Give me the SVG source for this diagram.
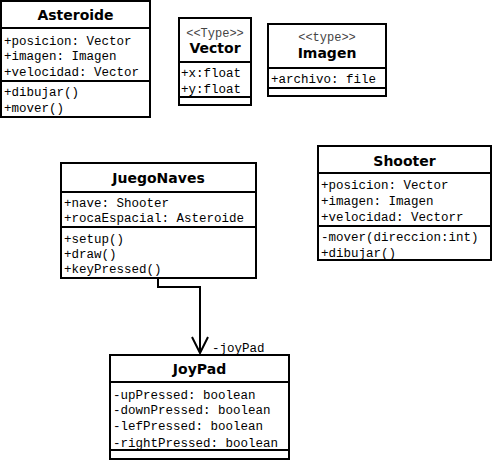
<svg xmlns="http://www.w3.org/2000/svg" width="493" height="462" viewBox="0 0 493 462">
<style>
.box{fill:#fff;stroke:#000;stroke-width:2}
.div{stroke:#000;stroke-width:2}
.name{font-family:"DejaVu Sans",Verdana,sans-serif;font-weight:bold;font-size:14px;text-anchor:middle;fill:#000}
.mono{font-family:"Courier New","Liberation Mono",Cousine,Courier,monospace;font-size:12.5px;fill:#000}
.st{font-family:"Courier New","Liberation Mono",Cousine,Courier,monospace;font-size:12px;fill:#444;text-anchor:middle}
.conn{fill:none;stroke:#000;stroke-width:2}
</style>
<rect width="493" height="462" fill="#fff"/>
<g id="Asteroide">
<rect class="box" x="1" y="1" width="149" height="116"/>
<line class="div" x1="1" y1="28" x2="150" y2="28"/>
<line class="div" x1="1" y1="81" x2="150" y2="81"/>
<text class="name" x="75.5" y="20">Asteroide</text>
<text class="mono" x="4" y="45">+posicion: Vector</text>
<text class="mono" x="4" y="60">+imagen: Imagen</text>
<text class="mono" x="4" y="76">+velocidad: Vector</text>
<text class="mono" x="4" y="96">+dibujar()</text>
<text class="mono" x="4" y="112">+mover()</text>
</g>
<g id="Vector">
<rect class="box" x="179" y="18" width="72" height="87"/>
<line class="div" x1="179" y1="62" x2="251" y2="62"/>
<line class="div" x1="179" y1="97" x2="251" y2="97"/>
<text class="st" x="215" y="37">&lt;&lt;Type&gt;&gt;</text>
<text class="name" x="215" y="53">Vector</text>
<text class="mono" x="181" y="77">+x:float</text>
<text class="mono" x="181" y="93">+y:float</text>
</g>
<g id="Imagen">
<rect class="box" x="268" y="24" width="118" height="72"/>
<line class="div" x1="268" y1="68" x2="386" y2="68"/>
<line class="div" x1="268" y1="88" x2="386" y2="88"/>
<text class="st" x="327" y="41">&lt;&lt;type&gt;&gt;</text>
<text class="name" x="327" y="58">Imagen</text>
<text class="mono" x="271" y="83">+archivo: file</text>
</g>
<g id="JuegoNaves">
<rect class="box" x="61" y="163" width="195" height="115"/>
<line class="div" x1="61" y1="192" x2="256" y2="192"/>
<line class="div" x1="61" y1="227" x2="256" y2="227"/>
<text class="name" x="158.5" y="183">JuegoNaves</text>
<text class="mono" x="64" y="207">+nave: Shooter</text>
<text class="mono" x="64" y="222">+rocaEspacial: Asteroide</text>
<text class="mono" x="64" y="243">+setup()</text>
<text class="mono" x="64" y="258">+draw()</text>
<text class="mono" x="64" y="273">+keyPressed()</text>
</g>
<g id="Shooter">
<rect class="box" x="318" y="146" width="173" height="114"/>
<line class="div" x1="318" y1="173" x2="491" y2="173"/>
<line class="div" x1="318" y1="226" x2="491" y2="226"/>
<text class="name" x="404.5" y="166">Shooter</text>
<text class="mono" x="321" y="189">+posicion: Vector</text>
<text class="mono" x="321" y="205">+imagen: Imagen</text>
<text class="mono" x="321" y="221">+velocidad: Vectorr</text>
<text class="mono" x="321" y="241">-mover(direccion:int)</text>
<text class="mono" x="321" y="257">+dibujar()</text>
</g>
<g id="JoyPad">
<rect class="box" x="110" y="355" width="179" height="104"/>
<line class="div" x1="110" y1="382" x2="289" y2="382"/>
<line class="div" x1="110" y1="450" x2="289" y2="450"/>
<text class="name" x="199.5" y="374">JoyPad</text>
<text class="mono" x="113" y="399">-upPressed: boolean</text>
<text class="mono" x="113" y="414">-downPressed: boolean</text>
<text class="mono" x="113" y="430">-lefPressed: boolean</text>
<text class="mono" x="113" y="447">-rightPressed: boolean</text>
</g>
<g id="connectors">
<polyline class="conn" points="158,278 158,287 200,287 200,353"/>
<polyline class="conn" points="192,337 200,353 208,337"/>
<text class="mono" x="212" y="352">-joyPad</text>
</g>
</svg>
